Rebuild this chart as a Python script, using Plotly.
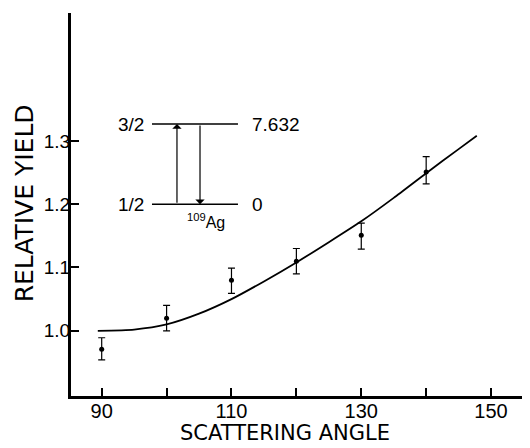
import plotly.graph_objects as go

# ---- data ----
angles = [90, 100, 110, 120, 130, 140]
yields = [0.971, 1.020, 1.080, 1.110, 1.151, 1.251]
err_plus = [0.018, 0.020, 0.019, 0.020, 0.019, 0.024]
err_minus = [0.017, 0.020, 0.021, 0.020, 0.022, 0.019]

curve_angle = [89.4, 95, 100, 105, 110, 115, 120, 125, 130, 135, 140, 145, 147.8]
curve_yield = [1.000, 1.002, 1.010, 1.027, 1.050, 1.078, 1.108, 1.140, 1.173, 1.210, 1.249, 1.287, 1.308]

x_tickvals = [90, 110, 130, 150]
x_ticktext = ["90", "110", "130", "150"]
y_tickvals = [1.0, 1.1, 1.2, 1.3]
y_ticktext = ["1.0", "1.1", "1.2", "1.3"]

# level scheme of 109Ag (inset)
level_energy_labels = ["7.632", "0"]
level_spin_labels = ["3/2", "1/2"]
level_y = [1.3265, 1.2]
nucleus_label = "<sup>109</sup>Ag"

FONT = "Liberation Sans, DejaVu Sans, sans-serif"

# the page body has an 8px default margin; compensate so the figure fills the window
PAGE_OFF = 8
W, H = 530 - PAGE_OFF, 448 - PAGE_OFF

fig = go.Figure()

fig.add_trace(go.Scatter(
    x=curve_angle, y=curve_yield, mode="lines",
    line=dict(color="black", width=1.8, shape="spline", smoothing=0.6),
    hoverinfo="skip", showlegend=False))

fig.add_trace(go.Scatter(
    x=angles, y=yields, mode="markers",
    marker=dict(color="black", size=5),
    error_y=dict(type="data", symmetric=False, array=err_plus, arrayminus=err_minus,
                 color="black", thickness=1.2, width=3.5),
    showlegend=False))

# inset level lines
lx0, lx1 = 97.75, 111.0
shapes = []
for ly in level_y:
    shapes.append(dict(type="line", xref="x", yref="y", x0=lx0, x1=lx1, y0=ly, y1=ly,
                       line=dict(color="black", width=1.5)))

annotations = []
# arrows
annotations.append(dict(x=101.6, y=level_y[0], ax=101.6, ay=level_y[1], xref="x", yref="y",
                        axref="x", ayref="y", text="", showarrow=True, arrowhead=1,
                        arrowsize=1.3, arrowwidth=1.2, arrowcolor="black", standoff=0))
annotations.append(dict(x=105.15, y=level_y[1], ax=105.15, ay=level_y[0], xref="x", yref="y",
                        axref="x", ayref="y", text="", showarrow=True, arrowhead=1,
                        arrowsize=1.3, arrowwidth=1.2, arrowcolor="black", standoff=0))
for s, e, ly in zip(level_spin_labels, level_energy_labels, level_y):
    annotations.append(dict(x=lx0 - 1.0, y=ly, xref="x", yref="y", text=s, showarrow=False,
                            xanchor="right", yanchor="middle", font=dict(family=FONT, size=19, color="black")))
    annotations.append(dict(x=lx1 + 1.9, y=ly, xref="x", yref="y", text=e, showarrow=False,
                            xanchor="left", yanchor="middle", font=dict(family=FONT, size=19, color="black")))
annotations.append(dict(x=102.8, y=1.173, xref="x", yref="y", text=nucleus_label, showarrow=False,
                        xanchor="left", yanchor="middle", font=dict(family=FONT, size=16, color="black")))

# axis titles
annotations.append(dict(x=0.467, y=-0.1332, xref="paper", yref="paper", text="SCATTERING ANGLE",
                        showarrow=False, xanchor="center", yanchor="bottom",
                        font=dict(family="DejaVu Sans", size=21, color="black")))
annotations.append(dict(x=-0.1024, y=0.503, xref="paper", yref="paper", text="RELATIVE YIELD",
                        showarrow=False, xanchor="center", yanchor="middle", textangle=-90,
                        font=dict(family="DejaVu Sans", size=25, color="black")))

fig.update_layout(
    width=W, height=H,
    margin=dict(l=71 - PAGE_OFF, r=0, t=13 - PAGE_OFF, b=52, autoexpand=False),
    paper_bgcolor="white", plot_bgcolor="white",
    shapes=shapes, annotations=annotations,
    font=dict(family=FONT, color="black"),
    xaxis=dict(range=[85.27, 156.0], showgrid=False, zeroline=False,
               showline=True, linecolor="black", linewidth=2.5,
               ticks="inside", ticklen=8, tickwidth=1.5, tickcolor="black",
               tickvals=x_tickvals, ticktext=x_ticktext, ticklabelstandoff=-5,
               minor=dict(tick0=90, dtick=10, ticks="inside", ticklen=8,
                          tickwidth=1.5, tickcolor="black"),
               tickfont=dict(family=FONT, size=20, color="black")),
    yaxis=dict(range=[0.897, 1.502], showgrid=False, zeroline=False,
               showline=True, linecolor="black", linewidth=3,
               ticks="inside", ticklen=8, tickwidth=1.5, tickcolor="black",
               tickvals=y_tickvals, ticktext=y_ticktext, ticklabelstandoff=-6,
               tickfont=dict(family=FONT, size=19, color="black")),
)

fig.write_html("out.html")
